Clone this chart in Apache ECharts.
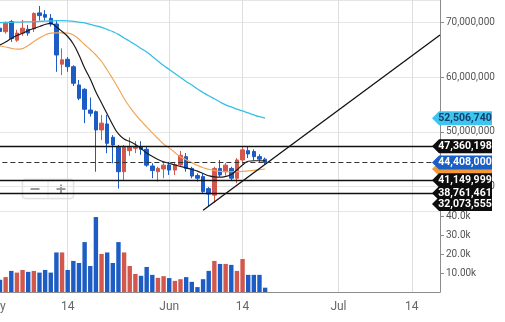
<!DOCTYPE html>
<html><head><meta charset="utf-8">
<script src="https://cdn.jsdelivr.net/npm/echarts@6/dist/echarts.min.js"></script>
<style>html,body{margin:0;padding:0;background:#fff}#c{width:505px;height:322px}</style>
</head><body><div id="c"></div>
<script>
// ---- data (prices in millions, volume in thousands) ----
const axisStart = '2021-05-01';
const axisEnd = '2021-07-19';
const firstCandleDate = '2021-05-02';
const tickDates = ['2021-05-01','2021-05-14','2021-06-01','2021-06-14','2021-07-01','2021-07-14'];
const tickLabels = ['May','14','Jun','14','Jul','14'];

const open  = [69.0,68.35,70.2,66.8,68.1,68.8,68.85,71.8,71.5,70.8,69.76,62.4,63.3,61.94,58.6,57.8,54.0,53.7,50.35,51.45,49.0,47.2,42.7,46.56,47.0,47.3,46.8,43.75,42.7,43.2,43.94,43.0,43.94,45.46,43.3,42.0,41.8,39.6,38.4,43.3,42.7,43.3,41.5,44.85,46.56,46.4,45.46,45.0];
const close = [68.4,69.9,67.1,68.1,69.0,68.1,71.7,71.3,71.0,69.76,64.08,63.2,61.94,58.9,56.15,54.14,53.4,50.35,51.6,47.9,47.6,42.7,47.2,47.2,47.3,46.8,43.9,42.9,43.3,43.9,43.0,43.94,45.7,43.3,41.9,41.5,39.05,38.6,43.3,42.1,43.9,41.5,44.85,46.7,45.95,45.46,45.0,44.408];
const low   = [67.9,68.0,66.5,66.5,67.6,67.6,68.3,70.4,70.4,69.3,61.0,60.4,61.0,58.4,55.8,51.6,52.8,42.7,48.5,46.1,44.25,39.6,41.2,45.6,46.1,45.8,43.6,41.5,40.9,41.5,42.1,42.1,43.6,42.7,41.5,40.9,38.8,36.4,37.0,41.8,42.0,41.0,40.6,43.9,45.2,44.8,44.5,44.1];
const high  = [69.3,70.2,70.5,68.7,70.5,69.6,71.9,73.06,72.3,71.6,70.3,65.3,63.7,62.2,59.5,58.0,56.3,53.9,53.1,53.1,49.4,47.6,47.6,49.0,48.3,48.3,47.3,44.25,43.6,44.25,44.5,44.5,46.5,46.1,43.6,42.4,42.4,39.9,43.6,44.85,44.3,43.6,45.2,47.36,47.3,46.8,45.9,45.3];
const volume = [6.5,7.9,11.2,10.3,11.7,10.7,11.2,10.3,11.7,10.3,21.0,21.0,11.7,16.5,15.4,26.5,13.8,39.8,20.2,21.0,15.4,26.5,21.0,13.8,9.6,8.6,13.3,9.1,7.5,8.4,7.4,5.9,6.8,7.9,5.4,2.6,6.8,11.2,16.5,14.9,14.9,14.4,11.2,17.5,9.1,9.1,9.1,2.3];

const maFast = [65.92,66.47,67.11,67.66,68.06,68.57,68.94,69.3,69.67,69.87,69.21,68.39,67.47,66.1,64.08,61.7,59.69,57.31,55.29,53.28,51.26,49.61,48.7,48.24,47.69,46.96,46.14,45.49,44.95,44.52,44.25,43.94,43.66,43.39,43.11,42.8,42.38,41.96,41.74,41.69,41.83,42.2,43.02,43.94,44.62,44.71,44.71,44.67];
const maMid  = [65.73,65.55,65.31,65.15,65.26,65.82,66.56,67.2,67.75,68.08,68.15,68.13,68.08,67.75,66.98,66.01,65.09,64.08,62.89,61.34,59.69,57.95,56.12,54.56,53.19,52.0,50.9,49.8,48.79,47.78,47.05,46.23,45.4,44.89,44.36,43.85,43.42,43.15,42.93,42.75,42.69,42.69,42.71,42.75,42.84,42.95,43.08,43.2];
const maSlow = [70.0,70.04,70.07,70.11,70.13,70.16,70.18,70.24,70.29,70.33,70.37,70.37,70.35,70.26,70.11,69.95,69.69,69.41,69.16,68.77,68.37,67.86,67.2,66.61,65.95,65.27,64.63,63.81,62.99,62.16,61.43,60.7,59.96,59.23,58.59,57.86,57.22,56.61,56.06,55.48,54.96,54.56,54.16,53.83,53.46,53.1,52.77,52.50674];

const levelValues = [47.360198, 41.149999, 38.761461, 32.073555];
const lastPrice = 44.408;
const trendDates = ['2021-06-07','2021-07-19'];
const trendValues = [35.62, 67.75];

const priceMin = 35.5, priceMax = 74.16;
const volMax = 43;

// ---- build ----
const UP = '#d2574c', DOWN = '#1c5cc4';
const DAY = 86400000;
function fmtDate(t){ const d=new Date(t); return d.toISOString().slice(0,10); }
const categories = [];
for (let t = Date.parse(axisStart+'T00:00:00Z'); t <= Date.parse(axisEnd+'T00:00:00Z'); t += DAY) categories.push(fmtDate(t));
const offset = categories.indexOf(firstCandleDate);
function pad(arr){ const out = categories.map(()=> '-'); arr.forEach((v,i)=>{ out[offset+i]=v; }); return out; }

const candleData = pad(open.map((o,i)=>[o, close[i], low[i], high[i]]));
const volData = pad(volume.map((v,i)=>({value:v, itemStyle:{color: close[i]>=open[i]?UP:DOWN}})));
const lastCat = categories[categories.length-1];
const fmtBig = v => Math.round(v*1e6).toLocaleString('en-US');
const isTick = (idx, val) => tickDates.indexOf(val) >= 0;

const pxPerM = 211/(priceMax-priceMin);
const tagMin = priceMin + 7/pxPerM;
function tag(v, bg, fg, showText){
  return { coord:[lastCat, Math.max(v, tagMin)], value:v,
    itemStyle:{color:bg},
    label:{show: showText !== false, color:fg, formatter: fmtBig(v)} };
}
const tags = [tag(maMid[maMid.length-1], '#f39a36', '#fff', false)]
  .concat(levelValues.slice().reverse().map(v=>tag(v,'#0d0d0d','#fff')))
  .concat([tag(maSlow[maSlow.length-1], '#3fc4f0', '#12406a'), tag(lastPrice, '#1a5fc6', '#fff')]);

const font = 'Roboto, "Liberation Sans", sans-serif';
const chart = echarts.init(document.getElementById('c'), null, {renderer:'canvas'});
chart.setOption({
  animation:false,
  textStyle:{fontFamily:font},
  grid:[
    {left:-5.64, right:65, top:0, height:211, outerBoundsMode:'none', containLabel:false},
    {left:-5.64, right:65, top:211, height:81, outerBoundsMode:'none', containLabel:false}
  ],
  xAxis:[
    {type:'category', gridIndex:0, data:categories, boundaryGap:false,
     axisLine:{show:false}, axisTick:{show:false}, axisLabel:{show:false},
     splitLine:{show:true, interval:isTick, lineStyle:{color:'#dedede', width:1}}},
    {type:'category', gridIndex:1, data:categories, boundaryGap:false,
     axisLine:{show:true, lineStyle:{color:'#8c8c8c'}}, axisTick:{show:false},
     axisLabel:{show:true, interval:isTick, color:'#666', fontSize:12, margin:9,
       formatter:(v)=> tickLabels[tickDates.indexOf(v)] || ''},
     splitLine:{show:true, interval:isTick, lineStyle:{color:'#dedede', width:1}}}
  ],
  yAxis:[
    {type:'value', gridIndex:0, position:'right', min:priceMin, max:priceMax, splitNumber:4,
     axisLine:{show:true, lineStyle:{color:'#8c8c8c'}},
     axisTick:{show:true, length:4, lineStyle:{color:'#8c8c8c'}},
     axisLabel:{color:'#555', fontSize:10, margin:6, showMinLabel:false, showMaxLabel:false,
       formatter:v=>fmtBig(v)},
     splitLine:{show:true, lineStyle:{color:'#e6e6e6'}}},
    {type:'value', gridIndex:1, position:'right', min:0, max:volMax, interval:10,
     axisLine:{show:true, lineStyle:{color:'#8c8c8c'}},
     axisTick:{show:true, length:4, lineStyle:{color:'#8c8c8c'}},
     axisLabel:{color:'#555', fontSize:10, margin:6, showMinLabel:false, showMaxLabel:false,
       formatter:v=> v===10 ? '10.00k' : v.toFixed(1)+'k'},
     splitLine:{show:false}}
  ],
  series:[
    {type:'candlestick', xAxisIndex:0, yAxisIndex:0, data:candleData, barWidth:4,
     itemStyle:{color:UP, color0:DOWN, borderColor:UP, borderColor0:DOWN, borderWidth:1},
     markLine:{silent:true, symbol:['none','none'], label:{show:false},
       data: levelValues.map(v=>({yAxis:v, lineStyle:{color:'#111', width:1.3, type:'solid'}}))
         .concat([{yAxis:lastPrice, lineStyle:{color:'#333', width:1.2, type:[5,3]}}])},
     markPoint:{silent:true, symbol:'path://M0,7 L7,0 L60,0 L60,14 L7,14 Z', symbolSize:[60,14],
       symbolKeepAspect:false, symbolOffset:[22,0],
       label:{show:true, position:'inside', offset:[3,0], fontSize:10.5, fontWeight:'bold', fontFamily:font},
       data: tags}
    },
    {type:'line', name:'slow', xAxisIndex:0, yAxisIndex:0, data:pad(maSlow), showSymbol:false, smooth:true,
     lineStyle:{color:'#35bfe6', width:1.3}},
    {type:'line', name:'mid', xAxisIndex:0, yAxisIndex:0, data:pad(maMid), showSymbol:false, smooth:true,
     lineStyle:{color:'#f2a65a', width:1.2}},
    {type:'line', name:'fast', xAxisIndex:0, yAxisIndex:0, data:pad(maFast), showSymbol:false, smooth:true,
     lineStyle:{color:'#1a1a1a', width:1.2}},
    {type:'line', name:'trend', xAxisIndex:0, yAxisIndex:0,
     data: trendDates.map((d,i)=>[d, trendValues[i]]), showSymbol:false,
     lineStyle:{color:'#111', width:1.3}},
    {type:'bar', xAxisIndex:1, yAxisIndex:1, data:volData, barWidth:4.4}
  ],
  graphic:[
    {type:'group', left:22, top:178, z:100, children:[
      {type:'rect', shape:{x:0,y:0,width:51,height:19,r:3}, style:{fill:'#fff', stroke:'#e2e2e2', lineWidth:1, shadowBlur:2, shadowColor:'rgba(0,0,0,0.12)'}},
      {type:'line', shape:{x1:25.5,y1:1,x2:25.5,y2:18}, style:{stroke:'#e6e6e6', lineWidth:1}},
      {type:'rect', shape:{x:8,y:8.5,width:9,height:2}, style:{fill:'#9a9a9a'}},
      {type:'rect', shape:{x:34,y:8.5,width:9,height:2}, style:{fill:'#9a9a9a'}},
      {type:'rect', shape:{x:37.5,y:5,width:2,height:9}, style:{fill:'#9a9a9a'}}
    ]}
  ]
});
</script></body></html>
